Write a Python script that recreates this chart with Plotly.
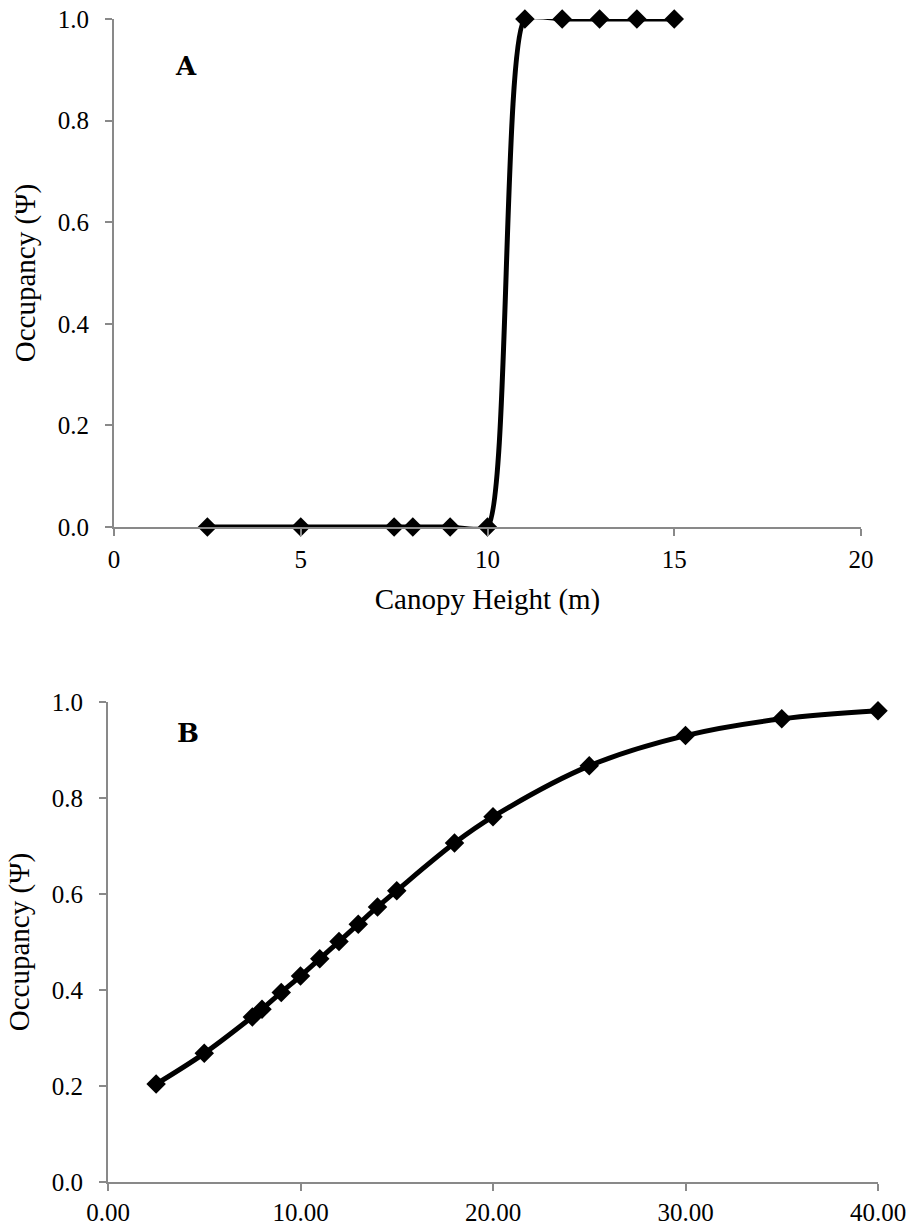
import plotly.graph_objects as go

# Panel A data
height_a = [2.5, 5, 7.5, 8, 9, 10, 11, 12, 13, 14, 15]
occ_a = [0, 0, 0, 0, 0, 0, 1, 1, 1, 1, 1]

# Panel B data
height_b = [2.5, 5, 7.5, 8, 9, 10, 11, 12, 13, 14, 15, 18, 20, 25, 30, 35, 40]
occ_b = [0.204, 0.268, 0.344, 0.360, 0.395, 0.429, 0.465, 0.501, 0.537, 0.573,
         0.607, 0.706, 0.761, 0.867, 0.930, 0.965, 0.982]

y_ticks = [0, 0.2, 0.4, 0.6, 0.8, 1.0]
x_ticks_a = [0, 5, 10, 15, 20]
x_ticks_b = [0, 10, 20, 30, 40]

W, H = 908, 1232
SERIF = "Liberation Serif"
AXC = "#898989"


def px(x):
    return x / W


def py(y):
    return 1 - y / H


fig = go.Figure()
marker = dict(symbol="diamond", size=15, color="black")
fig.add_trace(go.Scatter(x=height_a, y=occ_a, xaxis="x", yaxis="y", mode="lines+markers",
                         line=dict(color="black", width=5, shape="spline", smoothing=0.55),
                         marker=marker, cliponaxis=False, showlegend=False))
fig.add_trace(go.Scatter(x=height_b, y=occ_b, xaxis="x2", yaxis="y2", mode="lines+markers",
                         line=dict(color="black", width=5, shape="spline", smoothing=1),
                         marker=marker, cliponaxis=False, showlegend=False))

tickfont = dict(family=SERIF, size=25, color="black")
titlefont = dict(family=SERIF, size=29, color="black")


def xax(domain, anchor, ticks, fmt, standoff, title=None):
    d = dict(domain=domain, anchor=anchor, range=[ticks[0], ticks[-1]], tickvals=ticks,
             tickformat=fmt, showgrid=False, zeroline=False, showline=True, automargin=False,
             linecolor=AXC, linewidth=2, ticks="outside", ticklen=7, tickwidth=1.5,
             tickcolor=AXC, tickfont=tickfont, ticklabelstandoff=standoff,
             ticklabeloverflow="allow")
    if title:
        d["title"] = dict(text=title, font=titlefont, standoff=17)
    return d


def yax(domain, anchor):
    return dict(domain=domain, anchor=anchor, range=[0, 1], tickvals=y_ticks,
                tickformat=".1f", showgrid=False, zeroline=False, showline=True, automargin=False,
                linecolor=AXC, linewidth=2, ticks="outside", ticklen=7, tickwidth=1.5,
                tickcolor=AXC, tickfont=tickfont, ticklabelstandoff=11,
                ticklabeloverflow="allow",
                title=dict(text="Occupancy (Ψ)", font=titlefont, standoff=14))


fig.update_layout(
    width=W, height=H, margin=dict(l=0, r=0, t=0, b=0),
    paper_bgcolor="white", plot_bgcolor="white",
    xaxis=xax([px(114), px(861)], "y", x_ticks_a, "d", 2, "Canopy Height (m)"),
    yaxis=yax([py(527), py(19)], "x"),
    xaxis2=xax([px(108), px(878)], "y2", x_ticks_b, ".2f", 0),
    yaxis2=yax([py(1182), py(702)], "x2"),
    annotations=[
        dict(text="<b>A</b>", x=px(173), y=py(49), xref="paper", yref="paper",
             showarrow=False, font=dict(family="DejaVu Serif", size=26, color="black")),
        dict(text="<b>B</b>", x=px(175), y=py(733), xref="paper", yref="paper",
             showarrow=False, font=dict(family="DejaVu Serif", size=26, color="black")),
    ],
)

fig.write_html("out.html", config={"displayModeBar": False},
               post_script="document.body.style.margin='0px';document.body.style.overflow='hidden';")
